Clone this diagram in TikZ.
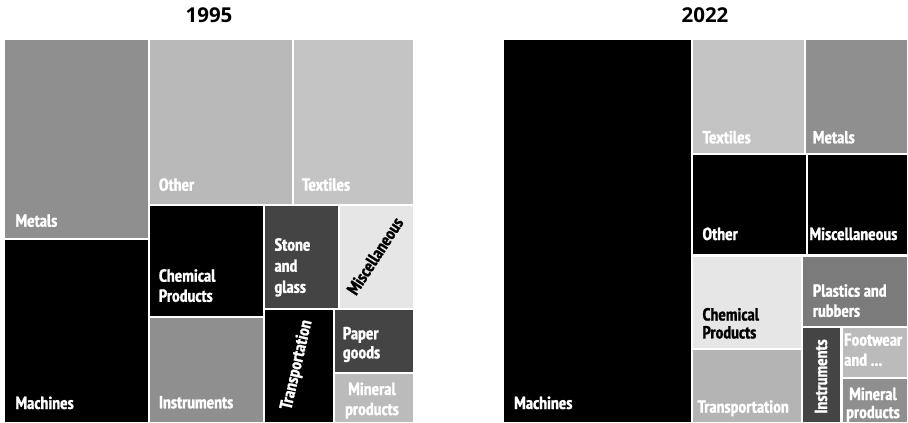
\documentclass[tikz,border=0pt]{standalone}
\usepackage{fontspec}
\newfontfamily\lblfamily{PT Sans Narrow}[BoldFeatures={FakeBold=1.2}]
\newfontfamily\titlefamily{Open Sans}
\newcommand\lblfont{\lblfamily\bfseries\fontsize{17.5}{19.5}\selectfont}
\newcommand\twol[3]{\renewcommand\arraystretch{#1}\begin{tabular}[t]{@{}l@{}}#2\\#3\end{tabular}}
\newcommand\twoc[3]{\renewcommand\arraystretch{#1}\begin{tabular}[t]{@{}c@{}}#2\\#3\end{tabular}}
\definecolor{gA}{HTML}{8F8F8F}
\definecolor{gB}{HTML}{B9B9B9}
\definecolor{gC}{HTML}{C4C4C4}
\definecolor{gD}{HTML}{444444}
\definecolor{gE}{HTML}{E6E6E6}
\definecolor{gF}{HTML}{BBBBBB}
\definecolor{gG}{HTML}{B4B4B4}
\definecolor{gH}{HTML}{7B7B7B}
\tikzset{
  lbl/.style={font=\lblfont, text=white, anchor=base west, inner sep=0pt},
  dlbl/.style={lbl, text=black},
  clbl/.style={font=\lblfont, text=white, anchor=center, inner sep=0pt},
  ttl/.style={font=\titlefamily\bfseries\fontsize{20.5}{24}\selectfont, anchor=base, inner sep=0pt}
}
\begin{document}
\begin{tikzpicture}[x=1pt,y=-1pt]
\useasboundingbox (0,0) rectangle (908,423);
% titles
\node[ttl] (t1995) at (209,22.7) {1995};
\node[ttl] (t2022) at (705,22.7) {2022};
% ---- 1995 ----
\fill[gA] (5,40) rectangle (147.5,238);
\fill[black] (5,240) rectangle (147.5,422);
\fill[gB] (149.5,40) rectangle (291.5,203.5);
\fill[gC] (293.5,40) rectangle (412.5,203.5);
\fill[black] (149.5,205.5) rectangle (262.5,316);
\fill[gA] (149.5,318) rectangle (262.5,422);
\fill[gD] (264.5,205.5) rectangle (337.5,307.5);
\fill[gE] (339.5,205.5) rectangle (412.5,307.5);
\fill[black] (264.5,309.5) rectangle (332.5,422);
\fill[gD] (334.5,309.5) rectangle (412.5,371.5);
\fill[gF] (334.5,373.5) rectangle (412.5,422);
\node[lbl] (a-metals) at (15.3,226.7) {Metals};
\node[lbl] (a-mach) at (15.3,409) {Machines};
\node[lbl] (a-other) at (158.7,190.7) {Other};
\node[lbl] (a-text) at (301.7,190.7) {Textiles};
\node[lbl] (a-chem) at (158.7,281.7) {\twol{1.03}{Chemical}{Products}};
\node[lbl] (a-instr) at (158.7,408.3) {Instruments};
\node[lbl] (a-stone) at (274.3,250.7) {\renewcommand\arraystretch{1.08}\begin{tabular}[t]{@{}l@{}}Stone\\and\\glass\end{tabular}};
\node[lbl] (a-paper) at (342.7,339.3) {\twol{0.98}{Paper}{goods}};
\node[lbl, anchor=base] (a-min) at (372,395) {\twoc{1.03}{Mineral}{products}};
\node[clbl, text=black, rotate=57] (a-misc) at (375,256) {Miscellaneous};
\node[clbl, rotate=77] (a-trans) at (297,365) {Transportation};
% ---- 2022 ----
\fill[black] (503.5,40) rectangle (690.5,422);
\fill[gC] (692.5,40) rectangle (803.5,153);
\fill[gA] (805.5,40) rectangle (906.5,153);
\fill[black] (692.5,155) rectangle (805.5,254);
\fill[black] (807.5,155) rectangle (906.5,254);
\fill[gE] (692.5,256.5) rectangle (800.5,347.5);
\fill[gG] (692.5,349.5) rectangle (800.5,422);
\fill[gH] (802.5,256.5) rectangle (906.5,325.8);
\fill[gD] (802.5,328) rectangle (840,422);
\fill[gF] (842.5,328) rectangle (906.5,376.5);
\fill[gA] (842.5,378.5) rectangle (906.5,422);
\node[lbl] (b-mach) at (514,409) {Machines};
\node[lbl] (b-text) at (702.3,143.3) {Textiles};
\node[lbl] (b-metals) at (812.7,143.3) {Metals};
\node[lbl] (b-other) at (702.3,240) {Other};
\node[lbl] (b-misc) at (809.3,240) {Miscellaneous};
\node[dlbl] (b-chem) at (702.3,320.5) {\twol{0.92}{Chemical}{Products}};
\node[lbl] (b-trans) at (697.3,412.7) {Transportation};
\node[lbl] (b-plast) at (812.7,296.7) {\twol{1.03}{Plastics and}{rubbers}};
\begin{scope}
\clip (842.5,328) rectangle (906.5,376.5);
\node[lbl] (b-foot) at (844,345.7) {\twol{1.03}{Footwear}{and ...}};
\end{scope}
\node[lbl, anchor=base] (b-min) at (873,400) {\twoc{0.93}{Mineral}{products}};
\node[clbl, rotate=90] (b-instr) at (821,376.5) {Instruments};
\end{tikzpicture}
\end{document}
